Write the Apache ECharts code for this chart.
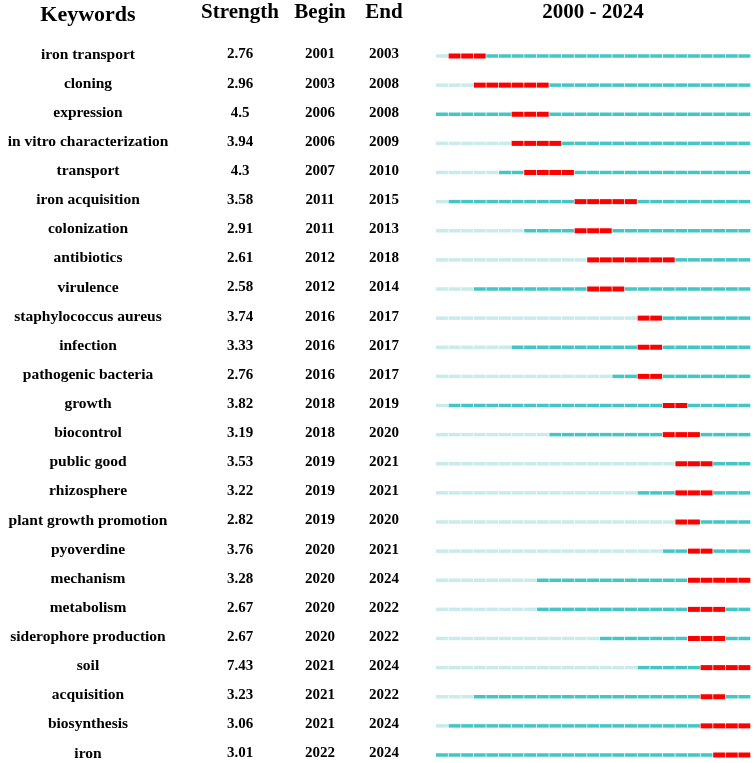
<!DOCTYPE html>
<html>
<head>
<meta charset="utf-8">
<script src="https://cdn.jsdelivr.net/npm/echarts@6/dist/echarts.min.js"></script>
<style>html,body{margin:0;padding:0;background:#fff}#c{width:754px;height:763px}</style>
</head>
<body>
<div id="c"></div>
<script>
var keywords = ["iron transport","cloning","expression","in vitro characterization","transport","iron acquisition","colonization","antibiotics","virulence","staphylococcus aureus","infection","pathogenic bacteria","growth","biocontrol","public good","rhizosphere","plant growth promotion","pyoverdine","mechanism","metabolism","siderophore production","soil","acquisition","biosynthesis","iron"];
var strength = ["2.76","2.96","4.5","3.94","4.3","3.58","2.91","2.61","2.58","3.74","3.33","2.76","3.82","3.19","3.53","3.22","2.82","3.76","3.28","2.67","2.67","7.43","3.23","3.06","3.01"];
var beginYears = [2001,2003,2006,2006,2007,2011,2011,2012,2012,2016,2016,2016,2018,2018,2019,2019,2019,2020,2020,2020,2020,2021,2021,2021,2022];
var endYears = [2003,2008,2008,2009,2010,2015,2013,2018,2014,2017,2017,2017,2019,2020,2021,2021,2020,2021,2024,2022,2022,2024,2022,2024,2024];
var firstYears = [2001,2003,2000,2006,2005,2001,2007,2012,2003,2016,2006,2014,2001,2009,2019,2016,2019,2018,2008,2008,2013,2016,2003,2001,2000];
var startYear = 2000, lastYear = 2024;
var headers = ["Keywords","Strength","Begin","End"];
var rangeTitle = startYear + " - " + lastYear;

var FONT = "'Liberation Serif','Times New Roman',serif";
var colX = [88, 240, 320, 384];
var colors = ["#c9ebeb", "#44c6c6", "#ff0000"];

var cells = [];
for (var i = 0; i < keywords.length; i++) {
  for (var y = startYear; y <= lastYear; y++) {
    var st = y < firstYears[i] ? 0 : ((y >= beginYears[i] && y <= endYears[i]) ? 2 : 1);
    cells.push([y, i, st]);
  }
}
var rows = keywords.map(function (k, i) { return [startYear, i]; });

var chart = echarts.init(document.getElementById('c'), null, {renderer: 'canvas'});
chart.setOption({
  animation: false,
  backgroundColor: '#fff',
  grid: {left: 436, right: 3, top: 56, bottom: 8},
  xAxis: {type: 'value', min: startYear, max: lastYear + 1, show: false},
  yAxis: {type: 'value', min: 0, max: keywords.length - 1, inverse: true, show: false},
  graphic: [
    {type: 'text', x: colX[0], y: 15, style: {text: headers[0], font: 'bold 22px ' + FONT, fill: '#000', textAlign: 'center', textVerticalAlign: 'middle'}},
    {type: 'text', x: colX[1], y: 13, style: {text: headers[1], font: 'bold 21px ' + FONT, fill: '#000', textAlign: 'center', textVerticalAlign: 'middle'}},
    {type: 'text', x: colX[2], y: 13, style: {text: headers[2], font: 'bold 21px ' + FONT, fill: '#000', textAlign: 'center', textVerticalAlign: 'middle'}},
    {type: 'text', x: colX[3], y: 13, style: {text: headers[3], font: 'bold 21px ' + FONT, fill: '#000', textAlign: 'center', textVerticalAlign: 'middle'}},
    {type: 'text', x: 593, y: 13, style: {text: rangeTitle, font: 'bold 21px ' + FONT, fill: '#000', textAlign: 'center', textVerticalAlign: 'middle'}}
  ],
  series: [
    {
      type: 'custom',
      clip: false,
      data: cells,
      renderItem: function (params, api) {
        var y = api.value(0), r = api.value(1), st = api.value(2);
        var a = api.coord([y, r]), b = api.coord([y + 1, r]);
        var h = st === 2 ? 5 : 3.5;
        var w = b[0] - a[0] - 0.7;
        return {type: 'rect', shape: {x: a[0], y: a[1] - h / 2, width: w, height: h}, style: {fill: colors[st]}};
      }
    },
    {
      type: 'custom',
      clip: false,
      data: rows,
      renderItem: function (params, api) {
        var r = api.value(1);
        var p = api.coord([startYear, r]);
        var yy = p[1] - 1.5;
        var texts = [keywords[r], strength[r], String(beginYears[r]), String(endYears[r])];
        return {
          type: 'group',
          children: texts.map(function (t, j) {
            return {type: 'text', x: colX[j], y: yy, style: {text: t, font: 'bold ' + (j === 0 ? 15.5 : 15) + 'px ' + FONT, fill: '#000', textAlign: 'center', textVerticalAlign: 'middle'}};
          })
        };
      }
    }
  ]
});
</script>
</body>
</html>
